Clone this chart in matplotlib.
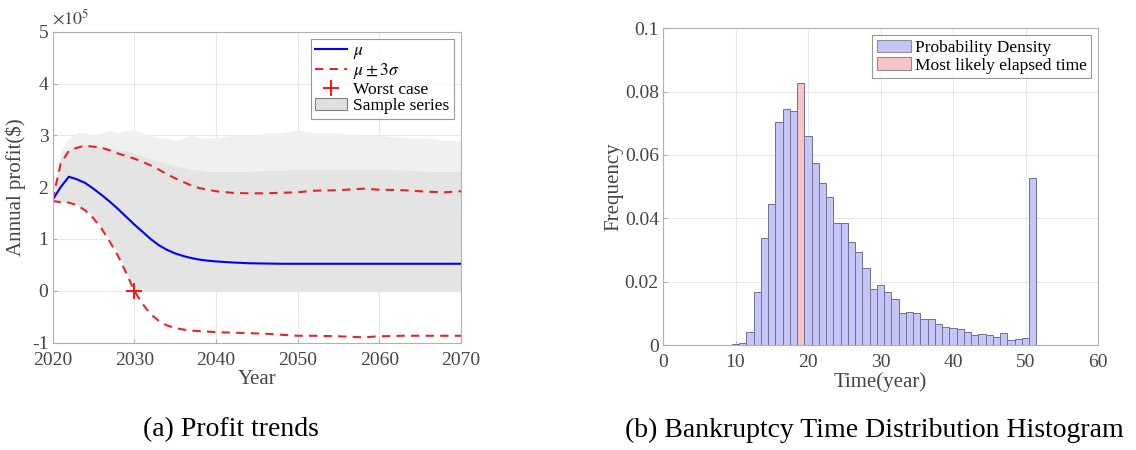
import numpy as np
import matplotlib
matplotlib.use("Agg")
import matplotlib.pyplot as plt
from matplotlib.lines import Line2D
from matplotlib.patches import Patch

plt.rcParams['font.family'] = ['Liberation Serif', 'DejaVu Serif']
plt.rcParams['mathtext.fontset'] = 'stix'
plt.rcParams['axes.unicode_minus'] = False

# ---- (a) profit trends, values in units of 1e5 $
years = [2020, 2021, 2022, 2023, 2024, 2025, 2026, 2027, 2028, 2029, 2030,
         2031, 2032, 2033, 2034, 2035, 2036, 2037, 2038, 2039, 2040, 2042,
         2044, 2046, 2048, 2050, 2052, 2055, 2058, 2060, 2063, 2066, 2068, 2070]
mu = [1.75, 2.00, 2.20, 2.15, 2.08, 1.97, 1.85, 1.72, 1.58, 1.43, 1.28,
      1.14, 1.00, 0.88, 0.79, 0.72, 0.67, 0.63, 0.60, 0.58, 0.565, 0.545,
      0.53, 0.525, 0.52, 0.52, 0.52, 0.52, 0.52, 0.52, 0.52, 0.52, 0.52, 0.52]
upper = [1.75, 2.45, 2.70, 2.76, 2.80, 2.78, 2.76, 2.71, 2.65, 2.60, 2.55,
         2.49, 2.42, 2.34, 2.25, 2.17, 2.10, 2.03, 1.98, 1.95, 1.92, 1.89,
         1.88, 1.88, 1.89, 1.90, 1.93, 1.94, 1.97, 1.95, 1.94, 1.91, 1.90, 1.92]
lower = [1.73, 1.71, 1.70, 1.65, 1.55, 1.40, 1.20, 0.95, 0.68, 0.35, 0.00,
         -0.25, -0.45, -0.58, -0.67, -0.72, -0.75, -0.77, -0.78, -0.79, -0.80, -0.81,
         -0.82, -0.83, -0.85, -0.87, -0.87, -0.88, -0.90, -0.88, -0.87, -0.87, -0.87, -0.87]
# envelope of the sample series (dense part and sparse fringe)
samp_low = [1.75, 1.72, 1.70, 1.66, 1.57, 1.43, 1.24, 1.00, 0.74, 0.40, 0.00,
            0, 0, 0, 0, 0, 0, 0, 0, 0, 0, 0,
            0, 0, 0, 0, 0, 0, 0, 0, 0, 0, 0, 0]
samp_dense = [1.75, 2.55, 2.75, 2.80, 2.82, 2.80, 2.78, 2.75, 2.72, 2.70, 2.65,
              2.60, 2.55, 2.50, 2.45, 2.40, 2.38, 2.35, 2.33, 2.30, 2.30, 2.30,
              2.30, 2.32, 2.32, 2.35, 2.35, 2.35, 2.35, 2.35, 2.33, 2.30, 2.30, 2.30]
samp_max = [1.75, 2.70, 2.95, 3.05, 3.05, 3.00, 3.05, 3.10, 3.05, 3.10, 3.10,
            3.05, 3.00, 2.95, 2.95, 2.90, 2.95, 3.00, 2.95, 2.95, 2.95, 3.00,
            3.00, 3.05, 3.05, 3.10, 3.05, 3.05, 3.00, 3.00, 2.95, 2.95, 2.90, 2.90]
worst_year, worst_val = 2030, 0.0

# ---- (b) bankruptcy time histogram
hist_years = list(range(10, 52))
hist_freq = [0.0003, 0.0006, 0.0042, 0.0167, 0.0338, 0.0445, 0.0703, 0.0744,
             0.0740, 0.0826, 0.0660, 0.0575, 0.0513, 0.0467, 0.0384, 0.0384,
             0.0324, 0.0293, 0.0244, 0.0177, 0.0190, 0.0167, 0.0145, 0.0101,
             0.0105, 0.0101, 0.0081, 0.0081, 0.0065, 0.0056, 0.0053, 0.0052,
             0.0042, 0.0030, 0.0036, 0.0032, 0.0026, 0.0039, 0.0017, 0.0020,
             0.0023, 0.0528]
most_likely = 19

W, H = 1136, 450
fig = plt.figure(figsize=(W / 100, H / 100), dpi=100)

tick_col = '#454545'
spine_col = '#b0b0b0'
grid_col = '#e8e8e8'


def style_axes(ax):
    for s in ax.spines.values():
        s.set_color(spine_col)
        s.set_linewidth(0.8)
    ax.tick_params(direction='in', length=3, colors=spine_col,
                   labelcolor=tick_col, labelsize=14, pad=3)
    ax.tick_params(axis='x', pad=6.5)
    ax.grid(True, color=grid_col, linewidth=0.8)
    ax.set_axisbelow(True)


ax1 = fig.add_axes([52.5 / W, 1 - 342.5 / H, 408.5 / W, 310.8 / H])
style_axes(ax1)
ax1.fill_between(years, samp_low, samp_max, color='#f0f0f0', lw=0)
ax1.fill_between(years, samp_low, samp_dense, color='#e4e4e4', lw=0)
ax1.plot(years, mu, color='#0000ff', lw=1.5)
ax1.plot(years, upper, color='#e8222a', lw=1.5, ls=(0, (4, 3)))
ax1.plot(years, lower, color='#e8222a', lw=1.5, ls=(0, (4, 3)))
ax1.plot([worst_year], [worst_val], marker='+', color='#ff0000', ms=11, mew=1.3, ls='none')
ax1.set_xlim(2020, 2070)
ax1.set_ylim(-1, 5)
ax1.set_xticks(range(2020, 2071, 10))
ax1.set_yticks(range(-1, 6))
ax1.set_xlabel('Year', fontsize=15, color=tick_col, labelpad=1)
ax1.set_ylabel('Annual profit($)', fontsize=15, color=tick_col, labelpad=4)
ax1.text(0.0, 1.012, r'$\times 10^5$', transform=ax1.transAxes, fontsize=13,
         color=tick_col, ha='left', va='bottom')

handles1 = [Line2D([], [], color='#0000ff', lw=1.5),
            Line2D([], [], color='#e8222a', lw=1.5, ls=(0, (4, 3))),
            Line2D([], [], color='#ff0000', marker='+', ms=11, mew=1.3, ls='none'),
            Patch(facecolor='#e0e0e0', edgecolor='#808080', lw=0.8)]
labels1 = [r'$\mu$', r'$\mu\pm3\sigma$', 'Worst case', 'Sample series']
leg1 = ax1.legend(handles1, labels1, loc='upper right', fontsize=12.5,
                  frameon=True, fancybox=False, borderpad=0.25, labelspacing=0.02,
                  handlelength=1.8, handletextpad=0.4, borderaxespad=0.4)
leg1.get_frame().set_edgecolor('#808080')
leg1.get_frame().set_linewidth(0.8)

ax2 = fig.add_axes([663 / W, 1 - 345 / H, 435 / W, 316.7 / H])
style_axes(ax2)
colors = ['#f6c3c6' if y == most_likely else '#c5c5f7' for y in hist_years]
ax2.bar(hist_years, hist_freq, width=1.0, color=colors,
        edgecolor='#707090', linewidth=0.7)
ax2.set_xlim(0, 60)
ax2.set_ylim(0, 0.1)
ax2.set_xticks(range(0, 61, 10))
ax2.set_yticks([0, 0.02, 0.04, 0.06, 0.08, 0.1])
ax2.set_yticklabels(['0', '0.02', '0.04', '0.06', '0.08', '0.1'])
ax2.set_xlabel('Time(year)', fontsize=15, color=tick_col, labelpad=1)
ax2.set_ylabel('Frequency', fontsize=15, color=tick_col, labelpad=1)

handles2 = [Patch(facecolor='#c5c5f7', edgecolor='#909090', lw=0.8),
            Patch(facecolor='#f6c3c6', edgecolor='#909090', lw=0.8)]
labels2 = ['Probability Density', 'Most likely elapsed time']
leg2 = ax2.legend(handles2, labels2, loc='upper right', fontsize=12.5,
                  frameon=True, fancybox=False, borderpad=0.25, labelspacing=0.1,
                  handlelength=2.0, handletextpad=0.2, borderaxespad=0.4)
leg2.get_frame().set_edgecolor('#808080')
leg2.get_frame().set_linewidth(0.8)

fig.text(231 / W, 1 - 430 / H, '(a) Profit trends', fontsize=20,
         ha='center', va='center', color='black')
fig.text(625 / W, 1 - 430 / H, '(b) Bankruptcy Time Distribution Histogram',
         fontsize=20, ha='left', va='center', color='black')

fig.savefig('out.png', dpi=100)
